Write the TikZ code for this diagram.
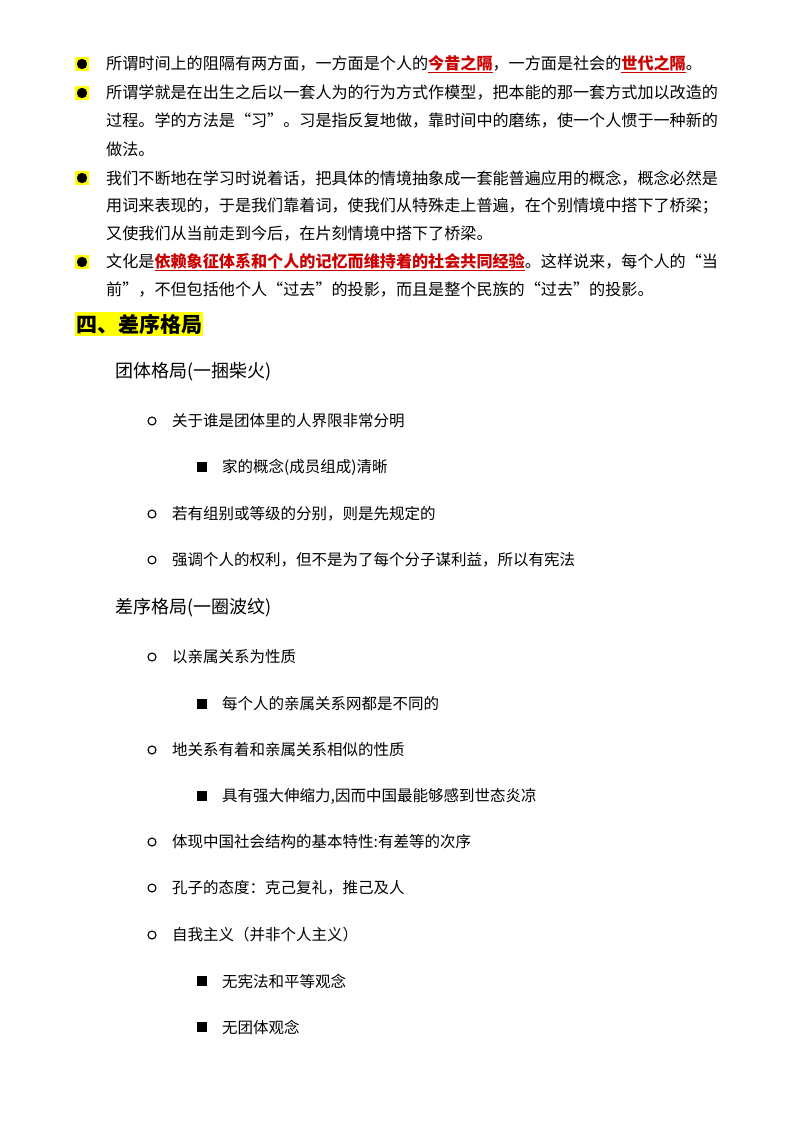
\documentclass[tikz,border=0pt]{standalone}
\usepackage{fontspec}
\setmainfont{Noto Sans CJK SC}
\definecolor{hl}{RGB}{255,255,0}
\definecolor{rd}{RGB}{204,0,0}
\newcommand{\rt}[1]{{\color{rd}\bfseries\underline{#1}}}
\begin{document}
\begin{tikzpicture}[x=1pt,y=-1pt,
  body/.style={anchor=west,inner sep=0pt,font=\fontsize{16.1}{18}\selectfont},
  lvl/.style={anchor=west,inner sep=0pt,font=\fontsize{15.5}{17}\selectfont},
  top/.style={anchor=west,inner sep=0pt,font=\fontsize{18}{20}\selectfont},
  dot/.style={fill=hl,draw=none,minimum size=14pt,inner sep=0pt,path picture={\fill[black] (path picture bounding box.center) circle (5.2pt);}},
  circ/.style={circle,draw,line width=1.1pt,minimum size=8pt,inner sep=0pt},
  sq/.style={fill=black,minimum size=10pt,inner sep=0pt}]
\useasboundingbox (0,0) rectangle (800,1132);
\fill[white] (0,0) rectangle (800,1132);
\node[dot] (b1) at (82,64) {};
\node[dot] (b2) at (82,93) {};
\node[dot] (b3) at (82,178) {};
\node[dot] (b4) at (82,262) {};
\node[body] (t1) at (106,64) {所谓时间上的阻隔有两方面，一方面是个人的\rt{今昔之隔}，一方面是社会的\rt{世代之隔}。};
\node[body] (t2) at (106,93) {所谓学就是在出生之后以一套人为的行为方式作模型，把本能的那一套方式加以改造的};
\node[body] (t3) at (106,121) {过程。学的方法是“习”。习是指反复地做，靠时间中的磨练，使一个人惯于一种新的};
\node[body] (t4) at (106,149) {做法。};
\node[body] (t5) at (106,178) {我们不断地在学习时说着话，把具体的情境抽象成一套能普遍应用的概念，概念必然是};
\node[body] (t6) at (106,206) {用词来表现的，于是我们靠着词，使我们从特殊走上普遍，在个别情境中搭下了桥梁；};
\node[body] (t7) at (106,234) {又使我们从当前走到今后，在片刻情境中搭下了桥梁。};
\node[body] (t8) at (106,262) {文化是\rt{依赖象征体系和个人的记忆而维持着的社会共同经验}。这样说来，每个人的“当};
\node[body] (t9) at (106,290) {前”，不但包括他个人“过去”的投影，而且是整个民族的“过去”的投影。};
\node[anchor=west,fill=hl,inner xsep=1pt,inner ysep=2pt,font=\fontsize{21}{24}\bfseries\selectfont] (h) at (75,324) {四、差序格局};
\node[top] (g1) at (115,372) {团体格局(一捆柴火)};
\node[circ] (c1) at (152,421) {}; \node[lvl] (l1) at (172,421) {关于谁是团体里的人界限非常分明};
\node[sq] (s1) at (202,467) {}; \node[lvl] (m1) at (222,467) {家的概念(成员组成)清晰};
\node[circ] (c2) at (152,514) {}; \node[lvl] (l2) at (172,514) {若有组别或等级的分别，则是先规定的};
\node[circ] (c3) at (152,560) {}; \node[lvl] (l3) at (172,560) {强调个人的权利，但不是为了每个分子谋利益，所以有宪法};
\node[top] (g2) at (115,608) {差序格局(一圈波纹)};
\node[circ] (c4) at (152,657) {}; \node[lvl] (l4) at (172,657) {以亲属关系为性质};
\node[sq] (s2) at (202,704) {}; \node[lvl] (m2) at (222,704) {每个人的亲属关系网都是不同的};
\node[circ] (c5) at (152,750) {}; \node[lvl] (l5) at (172,750) {地关系有着和亲属关系相似的性质};
\node[sq] (s3) at (202,796) {}; \node[lvl] (m3) at (222,796) {具有强大伸缩力,因而中国最能够感到世态炎凉};
\node[circ] (c6) at (152,842) {}; \node[lvl] (l6) at (172,842) {体现中国社会结构的基本特性:有差等的次序};
\node[circ] (c7) at (152,888) {}; \node[lvl] (l7) at (172,888) {孔子的态度：克己复礼，推己及人};
\node[circ] (c8) at (152,935) {}; \node[lvl] (l8) at (172,935) {自我主义（并非个人主义）};
\node[sq] (s4) at (202,981) {}; \node[lvl] (m4) at (222,981) {无宪法和平等观念};
\node[sq] (s5) at (202,1027) {}; \node[lvl] (m5) at (222,1027) {无团体观念};
\end{tikzpicture}
\end{document}
